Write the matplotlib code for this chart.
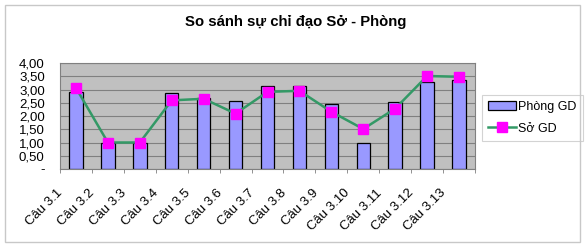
import numpy as np
import matplotlib.pyplot as plt
import matplotlib.transforms as mtransforms
from matplotlib.patches import Rectangle
from matplotlib.ticker import FuncFormatter

plt.rcParams['font.family'] = ['Liberation Sans', 'DejaVu Sans']

categories = ['Câu 3.1', 'Câu 3.2', 'Câu 3.3', 'Câu 3.4', 'Câu 3.5', 'Câu 3.6', 'Câu 3.7',
              'Câu 3.8', 'Câu 3.9', 'Câu 3.10', 'Câu 3.11', 'Câu 3.12', 'Câu 3.13']
phong_gd = [2.91, 1.0, 1.0, 2.87, 2.67, 2.57, 3.13, 3.13, 2.46, 1.0, 2.52, 3.27, 3.35]
so_gd = [3.06, 1.0, 1.0, 2.59, 2.65, 2.09, 2.91, 2.95, 2.16, 1.51, 2.28, 3.51, 3.48]

fig = plt.figure(figsize=(5.85, 2.47), dpi=100)
W, H = 585, 247

# khung ngoai
fig.patches.append(Rectangle((5 / W, 5 / H), 575 / W, 237 / H, transform=fig.transFigure,
                             fill=False, edgecolor='#c8c8c8', linewidth=1))

ax = fig.add_axes([60 / W, 1 - 169 / H, 415 / W, 106 / H])
ax.set_facecolor('#c0c0c0')

x = np.arange(len(categories))
bars = ax.bar(x, phong_gd, width=0.42, color='#9999ff', edgecolor='black', linewidth=0.9,
              label='Phòng GD', zorder=2)
line, = ax.plot(x, so_gd, color='#339966', linewidth=1.8, marker='s', markersize=7.5,
                markerfacecolor='#ff00ff', markeredgecolor='#ff00ff', label='Sở GD', zorder=3)

ax.set_xlim(-0.5, len(categories) - 0.5)
ax.set_ylim(0, 4)
ax.set_yticks(np.arange(0, 4.01, 0.5))
ax.yaxis.set_major_formatter(FuncFormatter(
    lambda v, p: '-' if abs(v) < 1e-9 else f'{v:.2f}'.replace('.', ',')))
ax.grid(axis='y', color='#808080', linewidth=0.8, zorder=1)
ax.set_axisbelow(True)
for s in ax.spines.values():
    s.set_color('#808080')
    s.set_linewidth(0.8)

ax.set_xticks(x)
ax.set_xticks(np.arange(-0.5, len(categories), 1), minor=True)
ax.tick_params(axis='x', which='major', length=0, pad=14)
ax.tick_params(axis='x', which='minor', length=3, color='#808080')
ax.tick_params(axis='y', length=0, pad=11, labelsize=9.5)
ax.set_xticklabels(categories, rotation=45, ha='right', va='center',
                   rotation_mode='anchor', fontsize=9.5)
offset = mtransforms.ScaledTranslation(-15 / 100, -3 / 100, fig.dpi_scale_trans)
for lbl in ax.get_xticklabels():
    lbl.set_transform(lbl.get_transform() + offset)

fig.text(0.505, 1 - 22 / H, 'So sánh sự chỉ đạo Sở - Phòng', ha='center', va='center',
         fontsize=10.7, fontweight='bold')

leg = ax.legend([bars, line], ['Phòng GD', 'Sở GD'], loc='upper left',
                bbox_to_anchor=(482 / W, 1 - 95 / H),
                bbox_transform=fig.transFigure, fontsize=9, fancybox=False,
                frameon=True, edgecolor='#c8c8c8', borderaxespad=0, handlelength=2.2,
                borderpad=0.5, labelspacing=0.75, handletextpad=0.2)
leg.get_frame().set_linewidth(0.8)

fig.savefig('out.png', dpi=100, facecolor='white')
